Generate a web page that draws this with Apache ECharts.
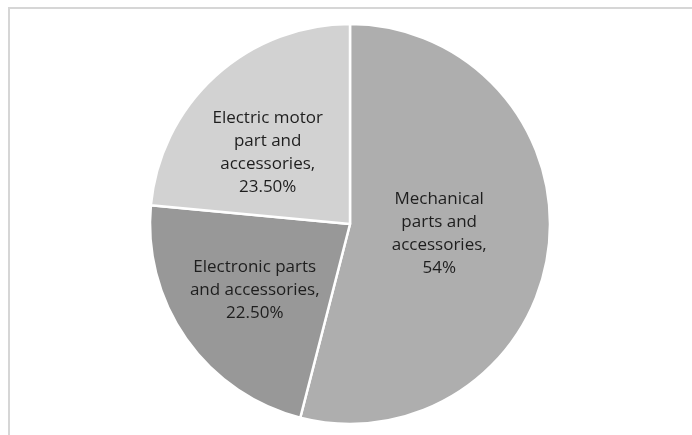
<!DOCTYPE html>
<html>
<head>
<meta charset="utf-8">
<style>
html,body{margin:0;padding:0;background:#fff;}
#c{width:692px;height:435px;}
</style>
<script src="https://cdn.jsdelivr.net/npm/echarts@6/dist/echarts.min.js"></script>
</head>
<body>
<div id="c"></div>
<script>
const categories = ["Mechanical\nparts and\naccessories,\n54%", "Electronic parts\nand accessories,\n22.50%", "Electric motor\npart and\naccessories,\n23.50%"];
const values = [54, 22.5, 23.5];
const colors = ["#aeaeae", "#989898", "#d2d2d2"];
const labelShift = [[-13, -3], [-11, 7], [-13, 5]];

const chart = echarts.init(document.getElementById('c'), null, {renderer: 'canvas'});
chart.setOption({
  animation: false,
  graphic: [
    {type: 'line', shape: {x1: 9, y1: 8, x2: 692, y2: 8}, style: {stroke: '#d6d6d6', lineWidth: 2}},
    {type: 'line', shape: {x1: 9, y1: 7, x2: 9, y2: 435}, style: {stroke: '#d6d6d6', lineWidth: 2}}
  ],
  series: [{
    type: 'pie',
    center: [350, 224],
    radius: 200,
    startAngle: 90,
    clockwise: true,
    itemStyle: {borderColor: '#ffffff', borderWidth: 2.5},
    label: {
      position: 'inside',
      color: '#1e1e1e',
      fontFamily: 'Open Sans',
      fontSize: 17,
      lineHeight: 23,
      align: 'center'
    },
    labelLayout: function (p) {
      const s = labelShift[p.dataIndex];
      return {dx: s[0], dy: s[1]};
    },
    data: values.map((v, i) => ({
      value: v,
      name: categories[i],
      itemStyle: {color: colors[i]},
      label: {formatter: categories[i]}
    }))
  }]
});
</script>
</body>
</html>
